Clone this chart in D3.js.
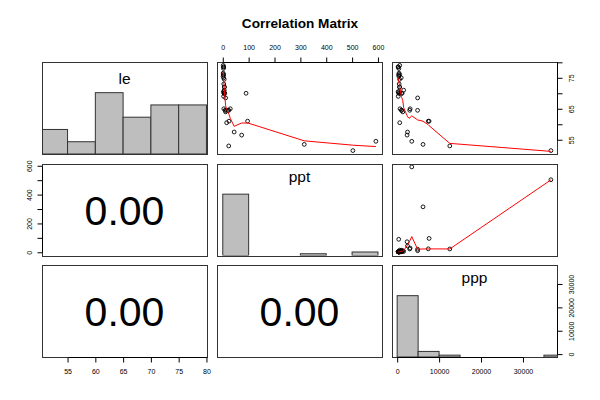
<!DOCTYPE html>
<html><head><meta charset="utf-8">
<script src="https://cdn.jsdelivr.net/npm/d3@7"></script>
<style>
body{margin:0;background:#fff}
svg{display:block;font-family:"Liberation Sans",Arial,Helvetica,sans-serif}
</style>
</head><body>
<svg id="chart" width="600" height="400"></svg>
<script>
// ---- data (38 countries, rows with missing values removed) ----
const countries = ["Argentina","Bangladesh","Brazil","Canada","China","Colombia","Egypt","Ethiopia","France","Germany",
  "India","Indonesia","Iran","Italy","Japan","Kenya","Korea North","Korea South","Mexico","Morocco",
  "Myanmar","Pakistan","Peru","Philippines","Poland","Romania","Russia","South Africa","Spain","Sudan",
  "Taiwan","Thailand","Turkey","Ukraine","United Kingdom","United States","Venezuela","Vietnam"];
const le  = [70.5,53.5,65,76.5,70,71,60.5,51.5,78,76, 57.5,61,64.5,78.5,79,61,70,70,72,64.5,
  54.5,56.5,64.5,64.5,73,72,69,64,78.5,53, 75,68.5,70,70.5,76,75.5,74.5,65];
const ppt = [4,315,4,1.7,8,5.6,15,503,2.6,2.6, 44,24,23,3.8,1.8,96,90,4.9,6.6,21,
  592,73,14,8.8,3.9,6,3.2,11,2.6,23, 3.2,11,5,3,3,1.3,5.6,29];
const ppp = [370,6166,684,449,643,1551,616,36660,403,346, 2471,7427,2992,233,609,7615,370,1066,600,4873,
  3485,2364,1016,1062,480,559,259,1340,275,12550, 965,4883,1189,226,611,404,576,3096];

const varNames = ["le","ppt","ppp"];
const breaksLe  = [50,55,60,65,70,75,80];
const breaksPpt = [0,100,200,300,400,500,600];
const breaksPpp = [0,5000,10000,15000,20000,25000,30000,35000,40000];
const ticksLe  = [55,60,65,70,75,80];
const ticksPpt = [0,100,200,300,400,500,600];
const ticksPpp = [0,10000,20000,30000];
const labelsLeH  = ["55","60","65","70","75","80"];
const labelsLeV  = ["55","","65","","75",""];
const labelsPptH = ["0","100","200","300","400","500","600"];
const labelsPptV = ["0","","200","","400","","600"];
const labelsPpp  = ["0","10000","20000","30000"];
const corLabel = "0.00";
const title = "Correlation Matrix";

// ---- layout ----
const svg = d3.select("#chart");
const padLeft = 42, padTop = 62, pw = 165, ph = 92, gapX = 10, gapY = 9.5;
const vals = [le, ppt, ppp];
const breaks = [breaksLe, breaksPpt, breaksPpp];
const ticks = [ticksLe, ticksPpt, ticksPpp];
const labH = [labelsLeH, labelsPptH, labelsPpp];
const labV = [labelsLeV, labelsPptV, labelsPpp];
const nv = vals.length;

function ext(a){ const [lo,hi]=d3.extent(a); const d=(hi-lo)*0.04; return [lo-d,hi+d]; }
const px = j => padLeft + j*(pw+gapX);
const py = i => padTop + i*(ph+gapY);
const xs = vals.map((v,j)=>d3.scaleLinear().domain(ext(v)).range([px(j), px(j)+pw]));
const ys = vals.map((v,i)=>d3.scaleLinear().domain(ext(v)).range([py(i)+ph, py(i)]));

// ---- R's lowess (clowess port) ----
function lowess(xIn, yIn, f=2/3, nsteps=3){
  const idx = d3.range(xIn.length).sort((a,b)=>xIn[a]-xIn[b]);
  const x = idx.map(i=>xIn[i]), y = idx.map(i=>yIn[i]);
  const n = x.length;
  const delta = 0.01*(x[n-1]-x[0]);
  const yf = new Array(n).fill(0), rw = new Array(n).fill(0), res = new Array(n).fill(0);
  const ns = Math.max(2, Math.min(n, Math.floor(f*n+1e-7)));
  const range = x[n-1]-x[0];
  function lowest(xv, nleft, nright, userw){
    const h = Math.max(xv-x[nleft], x[nright]-xv);
    const h9 = 0.999*h, h1 = 0.001*h;
    let a = 0, j = nleft;
    while (j < n){
      res[j] = 0;
      const r = Math.abs(x[j]-xv);
      if (r <= h9){
        if (r <= h1) res[j] = 1; else { const q=r/h; const c=1-q*q*q; res[j]=c*c*c; }
        if (userw) res[j] *= rw[j];
        a += res[j];
      } else if (x[j] > xv) break;
      j++;
    }
    const nrt = j-1;
    if (a <= 0) return null;
    for (j=nleft;j<=nrt;j++) res[j] /= a;
    if (h > 0){
      a = 0;
      for (j=nleft;j<=nrt;j++) a += res[j]*x[j];
      let b = xv-a, c = 0;
      for (j=nleft;j<=nrt;j++) c += res[j]*(x[j]-a)*(x[j]-a);
      if (Math.sqrt(c) > 0.001*range){
        b /= c;
        for (j=nleft;j<=nrt;j++) res[j] *= (b*(x[j]-a)+1);
      }
    }
    let s = 0;
    for (j=nleft;j<=nrt;j++) s += res[j]*y[j];
    return s;
  }
  let iter = 1;
  while (iter <= nsteps+1){
    let nleft = 0, nright = ns-1, last = -1, i = 0;
    for(;;){
      if (nright < n-1){
        const d1 = x[i]-x[nleft], d2 = x[nright+1]-x[i];
        if (d1 > d2){ nleft++; nright++; continue; }
      }
      const v = lowest(x[i], nleft, nright, iter>1);
      yf[i] = (v===null) ? y[i] : v;
      if (last < i-1){
        const denom = x[i]-x[last];
        for (let j=last+1;j<i;j++){ const al=(x[j]-x[last])/denom; yf[j]=al*yf[i]+(1-al)*yf[last]; }
      }
      last = i;
      const cut = x[last]+delta;
      for (i=last+1;i<n;i++){
        if (x[i] > cut) break;
        if (x[i] === x[last]){ yf[i]=yf[last]; last=i; }
      }
      i = Math.max(last+1, i-1);
      if (last >= n-1) break;
    }
    for (let k=0;k<n;k++) res[k] = y[k]-yf[k];
    let sc = 0; for (let k=0;k<n;k++) sc += Math.abs(res[k]); sc /= n;
    if (iter > nsteps) break;
    const ar = res.map(Math.abs).sort((a,b)=>a-b);
    const m1 = Math.floor(n/2);
    let cmad;
    if (n%2===0){ const m2=n-m1-1; cmad = 3*(ar[m1]+ar[m2]); } else cmad = 6*ar[m1];
    if (cmad < 1e-7*sc) break;
    const c9 = 0.999*cmad, c1 = 0.001*cmad;
    for (let k=0;k<n;k++){ const r=Math.abs(res[k]); rw[k] = r<=c1 ? 1 : (r<=c9 ? Math.pow(1-Math.pow(r/cmad,2),2) : 0); }
    iter++;
  }
  return x.map((v,k)=>[v, yf[k]]);
}

// right-closed histogram counts (like R hist)
function histCounts(v, br){
  const c = new Array(br.length-1).fill(0);
  v.forEach(d=>{
    for (let k=0;k<br.length-1;k++){
      if ((d > br[k] || (k===0 && d===br[0])) && d <= br[k+1]){ c[k]++; break; }
    }
  });
  return c;
}

function drawAxis(orient, scale, tv, labels, tx, ty){
  const gen = orient==="top"?d3.axisTop(scale):orient==="bottom"?d3.axisBottom(scale):orient==="left"?d3.axisLeft(scale):d3.axisRight(scale);
  gen.tickValues(tv).tickSize(5).tickSizeOuter(0).tickFormat((d,k)=>labels[k]);
  const a = svg.append("g").attr("transform",`translate(${tx},${ty})`).call(gen)
    .attr("font-size",7).attr("font-family",'"Liberation Sans",Arial,sans-serif');
  a.select(".domain").remove();
  a.selectAll(".tick line").attr("stroke","#000");
  const p0 = scale(tv[0]), p1 = scale(tv[tv.length-1]);
  const horiz = (orient==="top"||orient==="bottom");
  a.append("line").attr("stroke","#000")
    .attr("x1",horiz?Math.round(p0)+0.5:0).attr("x2",horiz?Math.round(p1)+0.5:0)
    .attr("y1",horiz?0:Math.round(p0)+0.5).attr("y2",horiz?0:Math.round(p1)+0.5);
  const t = a.selectAll(".tick text").attr("fill","#000");
  if (orient==="bottom") t.attr("y",14).attr("dy","0.35em");
  if (orient==="top") t.attr("y",-15).attr("dy","0.35em");
  if (orient==="left") t.attr("x",0).attr("y",0).attr("dy","0.35em").attr("text-anchor","middle").attr("transform","translate(-13,0) rotate(-90)");
  if (orient==="right") t.attr("x",0).attr("y",0).attr("dy","0.35em").attr("text-anchor","middle").attr("transform","translate(14.5,0) rotate(-90)");
}

// title
svg.append("text").attr("x",300).attr("y",27.5).attr("text-anchor","middle")
  .attr("font-weight","bold").attr("font-size",13.6).text(title);

const defs = svg.append("defs");

for (let i=0;i<nv;i++){
  for (let j=0;j<nv;j++){
    const x0 = px(j), y0 = py(i);
    const g = svg.append("g");
    const cid = `clip${i}${j}`;
    defs.append("clipPath").attr("id",cid).append("rect")
      .attr("x",x0).attr("y",y0).attr("width",pw).attr("height",ph);
    if (i===j){
      const counts = histCounts(vals[j], breaks[j]);
      const mx = d3.max(counts);
      const hy = d3.scaleLinear().domain([0,1.5]).range([y0+ph, y0]);
      g.append("g").attr("clip-path",`url(#${cid})`).selectAll("rect").data(counts).join("rect")
        .attr("x",(d,k)=>xs[j](breaks[j][k]))
        .attr("width",(d,k)=>xs[j](breaks[j][k+1])-xs[j](breaks[j][k]))
        .attr("y",d=>hy(d/mx)).attr("height",d=>hy(0)-hy(d/mx))
        .attr("fill","#bebebe").attr("stroke","#333").attr("stroke-width",1);
      const hasDesc = /[gjpqy]/.test(varNames[j]);
      g.append("text").attr("x",x0+pw/2).attr("y",y0+(hasDesc?18:22.3))
        .attr("text-anchor","middle").attr("font-size",15.5).text(varNames[j]);
    } else if (i<j){
      const xv = vals[j], yv = vals[i];
      const pts = xv.map((d,k)=>[d, yv[k]]);
      g.selectAll("circle").data(pts).join("circle")
        .attr("cx",d=>xs[j](d[0])).attr("cy",d=>ys[i](d[1])).attr("r",1.9)
        .attr("fill","none").attr("stroke","#000").attr("stroke-width",0.9);
      const sm = lowess(xv, yv);
      g.append("path").datum(sm).attr("clip-path",`url(#${cid})`)
        .attr("d",d3.line().x(d=>xs[j](d[0])).y(d=>ys[i](d[1])))
        .attr("fill","none").attr("stroke","#ff0000").attr("stroke-width",1);
    } else {
      g.append("text").attr("x",x0+pw/2).attr("y",y0+ph/2+15)
        .attr("text-anchor","middle").attr("font-size",41).text(corLabel);
    }
    g.append("rect").attr("x",Math.round(x0)+0.5).attr("y",Math.round(y0)+0.5)
      .attr("width",pw).attr("height",ph).attr("fill","none").attr("stroke","#333").attr("stroke-width",1);

    const ii = i+1, jj = j+1;
    if (ii===1 && jj%2===0) drawAxis("top", xs[j], ticks[j], labH[j], 0, Math.round(y0)+0.5);
    if (ii===nv && jj%2===1) drawAxis("bottom", xs[j], ticks[j], labH[j], 0, Math.round(y0+ph)+0.5);
    if (jj===1 && ii%2===0) drawAxis("left", ys[i], ticks[i], labV[i], Math.round(x0)+0.5, 0);
    if (jj===nv && ii%2===1) drawAxis("right", ys[i], ticks[i], labV[i], Math.round(x0+pw)+0.5, 0);
  }
}
</script>
</body></html>
